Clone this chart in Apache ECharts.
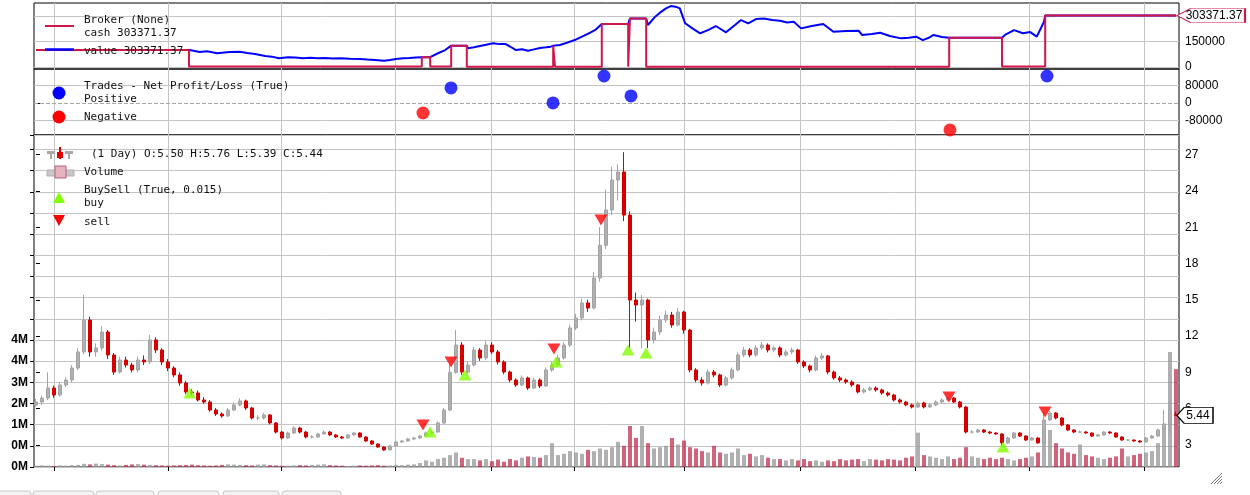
<!DOCTYPE html>
<html><head><meta charset="utf-8">
<script src="https://cdn.jsdelivr.net/npm/echarts@6/dist/echarts.min.js"></script>
<style>html,body{margin:0;padding:0;background:#fff}#c{width:1250px;height:495px}</style>
</head><body><div id="c"></div>
<script>
// ---------- data ----------
const opens = [
6.3,6.55,6.88,7.71,7.13,7.96,8.37,9.36,10.69,13.33,
10.69,11.02,12.34,10.44,9.03,10.02,9.61,9.2,10.02,9.86,
11.68,10.85,9.86,9.36,8.79,8.12,7.38,7.3,6.72,6.55,
5.89,5.56,5.4,5.89,6.31,6.64,6.06,5.23,5.23,5.48,
4.82,4.07,3.58,3.99,4.4,4.07,3.66,3.66,3.91,4.07,
3.83,3.66,3.58,3.83,3.99,3.66,3.33,3.08,2.83,2.59,
2.92,3.25,3.33,3.5,3.58,3.74,3.99,4.07,4.82,5.89,
9.0,11.26,9.03,9.61,10.85,10.19,11.26,10.69,9.86,9.03,
8.37,7.96,8.54,7.71,8.37,7.88,9.2,9.61,10.19,11.26,
12.67,13.5,14.74,14.32,16.8,19.5,22.42,24.9,25.56,22.0,
14.98,14.57,14.98,11.68,12.34,13.33,13.74,12.92,13.99,12.5,
9.2,8.37,8.12,9.03,8.79,7.96,8.54,9.2,10.44,10.85,
10.44,11.02,11.26,10.85,11.02,10.44,10.69,10.85,9.86,9.53,
9.2,10.19,10.36,9.03,8.54,8.37,8.21,7.96,7.38,7.55,
7.71,7.55,7.3,7.13,6.72,6.55,6.31,6.14,6.47,6.14,
6.31,6.55,6.72,6.88,6.55,6.14,4.07,4.07,4.24,4.07,
3.99,3.91,3.17,3.58,3.99,3.74,3.41,3.58,3.17,5.07,
5.64,5.23,4.65,4.24,4.07,4.07,3.99,3.74,3.83,4.07,
3.99,3.66,3.41,3.41,3.33,3.25,3.58,3.74,4.24,4.74,
5.5];
const closes = [
6.55,6.88,7.71,7.13,7.96,8.37,9.36,10.69,13.33,10.69,
11.02,12.34,10.44,9.03,10.02,9.61,9.2,10.02,9.86,11.68,
10.85,9.86,9.36,8.79,8.12,7.38,7.3,6.72,6.55,5.89,
5.56,5.4,5.89,6.31,6.64,6.06,5.23,5.23,5.48,4.82,
4.07,3.58,3.99,4.4,4.07,3.66,3.66,3.91,4.07,3.83,
3.66,3.58,3.83,3.99,3.66,3.33,3.08,2.83,2.59,2.92,
3.25,3.33,3.5,3.58,3.74,3.99,4.07,4.82,5.89,9.0,
11.26,9.03,9.61,10.85,10.19,11.26,10.69,9.86,9.03,8.37,
7.96,8.54,7.71,8.37,7.88,9.2,9.61,10.19,11.26,12.67,
13.5,14.74,14.32,16.8,19.5,22.42,24.9,25.56,22.0,14.98,
14.57,14.98,11.68,12.34,13.33,13.74,12.92,13.99,12.5,9.2,
8.37,8.12,9.03,8.79,7.96,8.54,9.2,10.44,10.85,10.44,
11.02,11.26,10.85,11.02,10.44,10.69,10.85,9.86,9.53,9.2,
10.19,10.36,9.03,8.54,8.37,8.21,7.96,7.38,7.55,7.71,
7.55,7.3,7.13,6.72,6.55,6.31,6.14,6.47,6.14,6.31,
6.55,6.72,6.88,6.55,6.14,4.07,4.07,4.24,4.07,3.99,
3.91,3.17,3.58,3.99,3.74,3.41,3.58,3.17,5.07,5.64,
5.23,4.65,4.24,4.07,4.07,3.99,3.74,3.83,4.07,3.99,
3.66,3.41,3.41,3.33,3.25,3.58,3.74,4.24,4.74,5.9,
5.44];
const highs = [
6.8,7.1,9.0,7.9,8.2,8.6,9.6,11.0,15.4,13.6,
11.4,12.8,12.5,10.6,10.3,10.3,9.8,10.3,10.4,12.1,
11.9,11.0,10.1,9.5,9.0,8.3,7.6,7.5,6.95,6.7,
6.05,5.7,6.05,6.5,6.85,6.75,6.15,5.45,5.65,5.55,
4.9,4.15,4.1,4.55,4.5,4.15,3.8,4.0,4.2,4.15,
3.9,3.75,3.92,4.08,4.05,3.72,3.4,3.14,2.9,3.0,
3.32,3.42,3.58,3.68,3.84,4.1,4.2,4.95,6.05,9.7,
12.5,11.5,9.9,11.1,11.0,11.6,11.5,10.85,10.0,9.15,
8.5,8.75,8.65,8.55,8.5,9.4,9.85,10.45,11.5,12.95,
13.85,15.1,15.0,17.3,21.0,24.1,26.0,26.2,27.2,22.3,
15.6,15.4,15.1,12.7,13.7,14.1,14.0,14.3,14.1,12.6,
9.35,8.6,9.25,9.2,8.9,8.7,9.4,10.65,11.1,11.0,
11.25,11.5,11.4,11.2,11.15,10.9,11.05,10.95,10.0,9.65,
10.4,10.6,10.45,9.15,8.7,8.5,8.35,8.05,7.7,7.85,
7.85,7.65,7.42,7.22,6.85,6.65,6.42,6.6,6.58,6.45,
6.68,6.85,7.0,6.95,6.65,6.2,4.22,4.35,4.32,4.15,
4.06,3.96,3.68,4.08,4.05,3.8,3.66,3.64,5.65,5.8,
5.72,5.3,4.72,4.32,4.2,4.14,4.04,3.92,4.15,4.14,
4.04,3.72,3.5,3.46,3.4,3.66,3.84,4.35,5.9,6.6,
5.76];
const lows = [
6.15,6.3,6.7,6.9,7.0,7.8,8.2,9.2,10.5,10.3,
10.3,10.8,10.1,8.8,8.9,9.4,9.0,9.0,9.6,9.7,
10.6,9.6,9.1,8.6,7.9,7.2,7.1,6.6,6.4,5.75,
5.4,5.25,5.3,5.8,6.2,5.9,5.1,5.05,5.1,4.7,
3.95,3.45,3.5,3.9,3.95,3.55,3.55,3.6,3.85,3.75,
3.58,3.5,3.52,3.78,3.6,3.27,3.02,2.77,2.52,2.55,
2.88,3.18,3.28,3.42,3.5,3.68,3.92,4.0,4.75,5.8,
8.9,8.8,8.85,9.5,9.95,10.0,10.5,9.65,8.85,8.2,
7.8,7.85,7.55,7.6,7.7,7.8,9.05,9.5,10.05,11.1,
12.5,13.3,14.0,14.2,16.5,19.2,22.0,23.2,21.5,11.0,
13.2,11.0,11.0,11.4,12.1,13.1,12.7,12.8,12.2,9.0,
8.2,7.9,8.0,8.6,7.8,7.85,8.4,9.1,10.25,10.25,
10.3,10.85,10.65,10.7,10.25,10.3,10.5,9.7,9.35,9.0,
9.1,10.0,8.85,8.4,8.2,8.05,7.8,7.25,7.25,7.45,
7.4,7.15,7.0,6.6,6.42,6.2,6.02,6.05,6.02,6.05,
6.22,6.45,6.62,6.45,6.02,3.95,3.95,4.0,3.98,3.9,
3.84,2.9,3.1,3.5,3.66,3.34,3.35,3.1,3.12,5.0,
5.12,4.55,4.15,3.98,3.98,3.92,3.66,3.68,3.78,3.92,
3.6,3.35,3.33,3.26,3.18,3.2,3.52,3.68,4.18,3.9,
5.39];
const volumesM = [
0.05,0.06,0.05,0.04,0.06,0.05,0.07,0.08,0.12,0.1,
0.13,0.11,0.09,0.07,0.06,0.08,0.1,0.11,0.09,0.08,
0.07,0.06,0.05,0.06,0.07,0.08,0.09,0.07,0.06,0.05,
0.06,0.08,0.1,0.09,0.08,0.07,0.06,0.09,0.1,0.07,
0.06,0.05,0.05,0.06,0.07,0.06,0.08,0.09,0.1,0.07,
0.06,0.05,0.04,0.05,0.06,0.05,0.06,0.07,0.05,0.06,
0.08,0.07,0.09,0.1,
0.15,0.25,0.2,0.3,0.35,0.45,0.55,0.35,0.3,0.3,
0.25,0.3,0.22,0.28,0.2,0.3,0.25,0.35,0.4,0.38,
0.35,0.45,0.9,0.45,0.5,0.6,0.55,0.5,0.65,0.6,
0.7,0.65,0.75,0.95,0.8,1.55,1.1,1.55,0.9,0.7,
0.75,0.8,1.1,0.85,1.0,0.75,0.7,0.6,0.55,0.8,
0.55,0.5,0.55,0.7,0.45,0.5,0.4,0.45,0.35,0.3,
0.3,0.25,0.3,0.25,0.3,0.22,0.25,0.2,0.25,0.22,
0.3,0.25,0.28,0.3,0.22,0.3,0.28,0.25,0.3,0.28,
0.25,0.35,0.4,1.3,0.45,0.4,0.35,0.3,0.4,0.3,
0.35,0.75,0.4,0.35,0.3,0.35,0.3,0.35,0.3,0.25,
0.3,0.35,0.4,0.55,1.15,1.4,0.9,0.7,0.55,0.5,
0.85,0.45,0.4,0.35,0.3,0.35,0.4,0.7,0.4,0.45,
0.5,0.55,0.6,0.9,1.6,4.35,3.7];
// date tick positions (in bar index units)
const xTickPos = [3.08,22,40.83,59.83,75.83,89.67,108,127.33,146.5,165.5,184.67];
// broker: cash change points [bar, cash]
const cashSteps = [[0,100000],[25.5,2000],[64.3,57000],[65.7,1500],[69.2,125000],[71.8,1000],[86.2,124000],[86.5,1000],[94.3,253000],[98.7,1000],[99.0,286000],[101.7,1000],[152.2,172000],[161.0,1500],[168.2,303371.37],[190,303371.37]];
const valuePts = [[0,100000],[25.6,99000],[27.3,87000],[28.5,92000],[30.2,80000],[32.3,87000],[34,89000],[35.2,82000],[36.5,76000],[38.2,64000],[39.3,60000],[40.5,50000],[42,56000],[43.2,55000],[44.5,51000],[45.7,54000],[47,50000],[48.2,52000],[49.5,49000],[50.8,50000],[52.3,47000],[54,46000],[55.2,43000],[56.5,40000],[58,36000],[59,40000],[60,46000],[61.2,50000],[62.3,52000],[63.3,55000],[64.3,57000],[65.7,57000],[67,80000],[68.2,99000],[69.2,125000],[71.8,125000],[72,109000],[73,115000],[74,123000],[75,130000],[76.2,139000],[77.2,134000],[78.2,135000],[79,120000],[80,99000],[81,104000],[82,95000],[83,103000],[84,111000],[85,115000],[85.8,119000],[86.2,124000],[86.5,124000],[87.3,129000],[88.5,142000],[89.8,158000],[91,178000],[92.3,200000],[93.3,220000],[94.3,253000],[98.7,253000],[99,286000],[101.7,286000],[102,247000],[103.2,296000],[104,320000],[105,345000],[105.8,359000],[106.8,353000],[107.3,345000],[108.2,257000],[109.4,227000],[110.7,198000],[112,217000],[113.3,241000],[115,204000],[116.5,247000],[117.5,276000],[118.7,257000],[120,282000],[121.3,286000],[122.7,276000],[124,272000],[125.2,262000],[126.3,266000],[127.5,227000],[129.3,241000],[131.2,253000],[132.9,207000],[135,211000],[137.1,213000],[137.7,188000],[139.3,194000],[140.7,201000],[142.3,182000],[144.2,168000],[145.5,172000],[146.7,178000],[147.8,158000],[148.7,170000],[149.6,188000],[151,176000],[152.2,172000],[161,172000],[161.5,188000],[163,217000],[164.5,198000],[165.7,205000],[166.8,178000],[168,266000],[168.2,303371.37],[190,303371.37]];
// trades net profit/loss
const tradePositive = [[69.17,68600],[86.17,500],[94.67,123000],[99.17,32000],[168.5,123000]];
const tradeNegative = [[64.5,-45700],[152.33,-123000]];
// buy / sell marker positions [bar, price]
const buyPts = [[25.67,7.3],[65.67,4.07],[71.5,8.79],[86.67,9.86],[98.67,10.85],[101.67,10.6],[161.17,2.83]];
const sellPts = [[64.5,4.65],[69.17,9.86],[86.33,10.93],[94.17,21.6],[152.17,6.97],[168.17,5.73]];
// axis ticks / labels
const brokerTicks = [0,150000,300000];
const brokerLabels = [0,150000];
const tradeTicks = [-80000,0,80000];
const priceTicks = [3,6,9,12,15,18,21,24,27];
const volTickLabels = ['0M','0M','1M','2M','3M','4M','4M'];
const volInterval = 0.8;

// ---------- chart ----------
const N = closes.length;
const last = N - 1;
const candleData = closes.map((c,i)=>[i, opens[i], c, lows[i], highs[i]]);
const volData = volumesM.map((v,i)=>({value:[i,v], itemStyle:{color: closes[i]>=opens[i] ? 'rgba(150,150,150,0.75)' : 'rgba(190,40,75,0.72)'}}));
const GRID_C = '#c4c4c4';
const AX_FONT = 'Liberation Sans';
const MONO = '11px "DejaVu Sans Mono", monospace';

function xAx(i, ticks){
  return {type:'value', gridIndex:i, min:-0.33, max:190.5,
    axisLine:{show:false}, axisLabel:{show:false}, splitLine:{show:false},
    axisTick: ticks ? {show:true, customValues:xTickPos, length:4, inside:false, lineStyle:{color:'#000'}} : {show:false}};
}
function rightAx(gi, min, max, ticks, labels){
  return {type:'value', gridIndex:gi, position:'right', min:min, max:max,
    axisLine:{show:false}, splitLine:{show:false},
    axisTick:{show:true, customValues:ticks, length:4, inside:false, lineStyle:{color:'#000'}},
    axisLabel:{customValues:labels, color:'#000', fontSize:12, fontFamily:AX_FONT, margin:6,
      formatter:v=>String(v)}};
}
function gridLines(xi, yi, hvals, extra){
  const d = xTickPos.map(v=>({xAxis:v})).concat(hvals.map(v=>({yAxis:v}))).concat(extra||[]);
  return {type:'line', xAxisIndex:xi, yAxisIndex:yi, data:[], silent:true, z:0,
    markLine:{silent:true, z:1, animation:false, symbol:['none','none'], label:{show:false},
      lineStyle:{color:GRID_C, width:1, type:'solid'}, data:d}};
}
function tag(xi, yi, pt, w, h, border, text){
  return {type:'scatter', xAxisIndex:xi, yAxisIndex:yi, clip:false, z:20, silent:true,
    data:[pt], symbol:'path://M0,50 L20,0 L100,0 L100,100 L20,100 Z', symbolKeepAspect:false,
    symbolSize:[w,h], symbolOffset:[w/2+1,0],
    itemStyle:{color:'#fff', borderColor:border, borderWidth:1, opacity:1},
    label:{show:true, position:'inside', offset:[3,0], formatter:text, color:'#000', fontSize:12, fontFamily:AX_FONT}};
}

const option = {
  animation:false,
  backgroundColor:'#fff',
  grid:[
    {left:34, top:3, width:1145, height:66, show:true, borderColor:'#000', borderWidth:1},
    {left:34, top:69, width:1145, height:66, show:true, borderColor:'#000', borderWidth:1},
    {left:34, top:135, width:1145, height:332, show:true, borderColor:'#000', borderWidth:1}
  ],
  xAxis:[xAx(0,false), xAx(1,false), xAx(2,true)],
  yAxis:[
    rightAx(0, -13000, 377000, brokerTicks, brokerLabels),
    rightAx(1, -146000, 155000, tradeTicks, tradeTicks),
    rightAx(2, 1.18, 28.62, priceTicks, priceTicks),
    {type:'value', gridIndex:2, position:'left', min:0, max:12.55, interval:volInterval,
      axisLine:{show:false},
      axisTick:{show:true, length:4, inside:false, lineStyle:{color:'#000'}},
      splitLine:{show:true, lineStyle:{color:GRID_C, width:1}},
      axisLabel:{color:'#000', fontSize:12, fontWeight:'bold', fontFamily:AX_FONT, margin:6,
        formatter:v=>{const k=Math.round(v/volInterval); return k<volTickLabels.length ? volTickLabels[k] : '';}}}
  ],
  series:[
    gridLines(0,0,brokerTicks),
    gridLines(1,1,[-80000,80000],[{yAxis:0, lineStyle:{type:'dashed', color:'#a8a8a8'}}]),
    gridLines(2,2,[]),
    {name:'value', type:'line', xAxisIndex:0, yAxisIndex:0, data:valuePts, showSymbol:false, z:3,
      lineStyle:{color:'#0000ff', width:2}},
    {name:'cash', type:'line', xAxisIndex:0, yAxisIndex:0, data:cashSteps, step:'end', showSymbol:false, z:4,
      lineStyle:{color:'#d0164a', width:2}},
    tag(0,0,cashSteps[cashSteps.length-1], 68, 14, '#d0164a', '303371.37'),
    {name:'Positive', type:'scatter', xAxisIndex:1, yAxisIndex:1, data:tradePositive, symbolSize:13, z:5,
      itemStyle:{color:'#0000ff'}},
    {name:'Negative', type:'scatter', xAxisIndex:1, yAxisIndex:1, data:tradeNegative, symbolSize:13, z:5,
      itemStyle:{color:'#ff0000'}},
    {name:'Volume', type:'bar', xAxisIndex:2, yAxisIndex:3, data:volData, barWidth:4, z:2},
    {name:'price', type:'candlestick', xAxisIndex:2, yAxisIndex:2, data:candleData,
      encode:{x:0, y:[1,2,3,4]}, barWidth:4, z:4,
      itemStyle:{color:'#b0b0b0', color0:'#d40000', borderColor:'#a4a4a4', borderColor0:'#d40000', borderWidth:1}},
    {name:'buy', type:'scatter', xAxisIndex:2, yAxisIndex:2, data:buyPts, symbol:'triangle', symbolSize:[13,11], z:6,
      itemStyle:{color:'#80ff00'}},
    {name:'sell', type:'scatter', xAxisIndex:2, yAxisIndex:2, data:sellPts, symbol:'triangle', symbolRotate:180, symbolSize:[13,11], z:6,
      itemStyle:{color:'#ff0000'}},
    tag(2,2,[last, closes[last]], 36, 16, '#000', String(closes[last].toFixed(2)))
  ],
  graphic:[
    // broker legend
    {type:'line', z:100, shape:{x1:45,y1:26,x2:74,y2:26}, style:{stroke:'#d0164a', lineWidth:2}},
    {type:'text', z:100, x:84, y:20, style:{text:'Broker (None)', font:MONO, fill:'#111', verticalAlign:'middle'}},
    {type:'text', z:100, x:84, y:33, style:{text:'cash 303371.37', font:MONO, fill:'#111', verticalAlign:'middle'}},
    {type:'line', z:100, shape:{x1:45,y1:49.5,x2:74,y2:49.5}, style:{stroke:'#0000ff', lineWidth:2.5}},
    {type:'text', z:99, x:84, y:51, style:{text:'value 303371.37', font:MONO, fill:'#111', verticalAlign:'middle'}},
    // trades legend
    {type:'circle', z:100, shape:{cx:59, cy:93, r:6.5}, style:{fill:'#0000ff'}},
    {type:'text', z:100, x:84, y:86, style:{text:'Trades - Net Profit/Loss (True)', font:MONO, fill:'#111', verticalAlign:'middle'}},
    {type:'text', z:100, x:84, y:99.5, style:{text:'Positive', font:MONO, fill:'#111', verticalAlign:'middle'}},
    {type:'circle', z:100, shape:{cx:59, cy:117, r:6.5}, style:{fill:'#ff0000'}},
    {type:'text', z:100, x:84, y:117, style:{text:'Negative', font:MONO, fill:'#111', verticalAlign:'middle'}},
    // price legend icon
    {type:'rect', z:100, shape:{x:47,y:151,width:8,height:3}, style:{fill:'#a8a8a8'}},
    {type:'rect', z:100, shape:{x:50,y:151,width:2,height:8}, style:{fill:'#a8a8a8'}},
    {type:'rect', z:100, shape:{x:65,y:151,width:8,height:3}, style:{fill:'#a8a8a8'}},
    {type:'rect', z:100, shape:{x:68,y:151,width:2,height:8}, style:{fill:'#a8a8a8'}},
    {type:'rect', z:100, shape:{x:57,y:152,width:6,height:6}, style:{fill:'#e00000'}},
    {type:'rect', z:100, shape:{x:59,y:147,width:2,height:12}, style:{fill:'#e00000'}},
    {type:'text', z:100, x:91, y:154, style:{text:'(1 Day) O:5.50 H:5.76 L:5.39 C:5.44', font:MONO, fill:'#111', verticalAlign:'middle'}},
    // volume legend icon
    {type:'rect', z:100, shape:{x:47,y:170,width:8,height:6}, style:{fill:'#c8c8c8', stroke:'#b0b0b0', lineWidth:1}},
    {type:'rect', z:100, shape:{x:66,y:170,width:8,height:6}, style:{fill:'#c8c8c8', stroke:'#b0b0b0', lineWidth:1}},
    {type:'rect', z:101, shape:{x:55,y:166,width:11,height:12}, style:{fill:'#e6b3c0', stroke:'#b86078', lineWidth:1}},
    {type:'text', z:100, x:84, y:172, style:{text:'Volume', font:MONO, fill:'#111', verticalAlign:'middle'}},
    // buysell legend
    {type:'polygon', z:100, shape:{points:[[53,203],[65,203],[59,192]]}, style:{fill:'#80ff00'}},
    {type:'text', z:100, x:84, y:190.5, style:{text:'BuySell (True, 0.015)', font:MONO, fill:'#111', verticalAlign:'middle'}},
    {type:'text', z:100, x:84, y:203, style:{text:'buy', font:MONO, fill:'#111', verticalAlign:'middle'}},
    {type:'polygon', z:100, shape:{points:[[53,215],[65,215],[59,226]]}, style:{fill:'#ff0000'}},
    {type:'text', z:100, x:84, y:222, style:{text:'sell', font:MONO, fill:'#111', verticalAlign:'middle'}},
    // window tabs at the bottom
    {type:'rect', shape:{x:-2,y:491,width:33,height:10,r:3}, style:{fill:'#f3f3f3', stroke:'#c8c8c8'}},
    {type:'rect', shape:{x:33,y:491,width:61,height:10,r:3}, style:{fill:'#f3f3f3', stroke:'#c8c8c8'}},
    {type:'rect', shape:{x:96,y:491,width:58,height:10,r:3}, style:{fill:'#f3f3f3', stroke:'#c8c8c8'}},
    {type:'rect', shape:{x:158,y:491,width:61,height:10,r:3}, style:{fill:'#f3f3f3', stroke:'#c8c8c8'}},
    {type:'rect', shape:{x:223,y:491,width:56,height:10,r:3}, style:{fill:'#f3f3f3', stroke:'#c8c8c8'}},
    {type:'rect', shape:{x:282,y:491,width:59,height:10,r:3}, style:{fill:'#f3f3f3', stroke:'#c8c8c8'}},
    // resize grip
    {type:'line', shape:{x1:1222,y1:473,x2:1211,y2:484}, style:{stroke:'#777', lineWidth:1}},
    {type:'line', shape:{x1:1222,y1:476,x2:1214,y2:484}, style:{stroke:'#777', lineWidth:1}},
    {type:'line', shape:{x1:1222,y1:479,x2:1217,y2:484}, style:{stroke:'#777', lineWidth:1}},
    {type:'line', shape:{x1:1222,y1:482,x2:1220,y2:484}, style:{stroke:'#777', lineWidth:1}}
  ]
};
const chart = echarts.init(document.getElementById('c'), null, {renderer:'canvas'});
chart.setOption(option);
</script>
</body></html>
